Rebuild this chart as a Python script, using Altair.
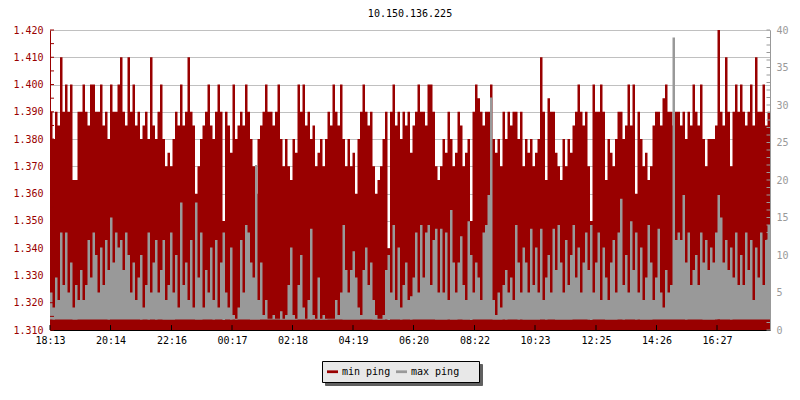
import altair as alt
import pandas as pd

FONT = "DejaVu Sans Mono"
RED = "#990000"
GREY = "#999999"
SHADOW = "#606060"

title_text = "10.150.136.225"
series_names = ["min ping", "max ping"]
time_labels = ["18:13", "20:14", "22:16", "00:17", "02:18", "04:19",
               "06:20", "08:22", "10:23", "12:25", "14:26", "16:27"]
time_label_minutes = [0, 121, 243, 364, 485, 606, 727, 849, 970, 1092, 1213, 1334]
step_minutes = 5
span_minutes = 1440

left_domain = [1.31, 1.42]
right_domain = [0, 40]
left_labels = [1.31, 1.32, 1.33, 1.34, 1.35, 1.36, 1.37, 1.38, 1.39, 1.40, 1.41, 1.42]
left_tick_positions = [1.310, 1.315, 1.320, 1.325, 1.330, 1.335, 1.340, 1.345, 1.350, 1.355,
                       1.360, 1.365, 1.370, 1.375, 1.380, 1.385, 1.390, 1.395, 1.400, 1.405,
                       1.410, 1.415, 1.420]
right_labels = [0, 5, 10, 15, 20, 25, 30, 35, 40]
right_tick_positions = list(range(0, 41))

# min ping (left axis), one value every 5 minutes
min_ping = [
    1.39, 1.38, 1.39, 1.385, 1.41, 1.39, 1.40, 1.39, 1.40, 1.365, 1.365, 1.39,
    1.39, 1.40, 1.39, 1.385, 1.40, 1.40, 1.39, 1.39, 1.40, 1.385, 1.39, 1.38,
    1.40, 1.39, 1.39, 1.40, 1.41, 1.39, 1.385, 1.41, 1.39, 1.40, 1.385, 1.39,
    1.38, 1.385, 1.39, 1.38, 1.41, 1.385, 1.38, 1.39, 1.40, 1.38, 1.37, 1.375,
    1.37, 1.38, 1.39, 1.385, 1.40, 1.385, 1.39, 1.41, 1.39, 1.385, 1.36, 1.37,
    1.38, 1.385, 1.39, 1.40, 1.385, 1.38, 1.39, 1.40, 1.39, 1.35, 1.39, 1.385,
    1.375, 1.40, 1.38, 1.385, 1.39, 1.385, 1.40, 1.39, 1.38, 1.37, 1.36, 1.38,
    1.385, 1.39, 1.40, 1.39, 1.39, 1.385, 1.39, 1.40, 1.38, 1.37, 1.38, 1.37,
    1.365, 1.38, 1.375, 1.40, 1.39, 1.40, 1.385, 1.39, 1.38, 1.385, 1.37, 1.375,
    1.38, 1.37, 1.38, 1.39, 1.385, 1.40, 1.39, 1.385, 1.40, 1.38, 1.37, 1.38,
    1.37, 1.375, 1.36, 1.38, 1.39, 1.40, 1.39, 1.385, 1.39, 1.37, 1.36, 1.365,
    1.37, 1.38, 1.39, 1.34, 1.39, 1.40, 1.385, 1.39, 1.38, 1.39, 1.385, 1.39,
    1.375, 1.385, 1.39, 1.40, 1.39, 1.39, 1.385, 1.40, 1.40, 1.39, 1.37, 1.365,
    1.37, 1.38, 1.375, 1.39, 1.38, 1.37, 1.375, 1.39, 1.385, 1.37, 1.375, 1.38,
    1.35, 1.39, 1.40, 1.395, 1.39, 1.385, 1.39, 1.39, 1.40, 1.38, 1.375, 1.38,
    1.37, 1.39, 1.38, 1.39, 1.385, 1.39, 1.39, 1.38, 1.39, 1.37, 1.38, 1.375,
    1.38, 1.37, 1.375, 1.38, 1.41, 1.39, 1.365, 1.395, 1.39, 1.39, 1.375, 1.37,
    1.365, 1.38, 1.37, 1.38, 1.375, 1.385, 1.39, 1.40, 1.39, 1.385, 1.39, 1.37,
    1.35, 1.40, 1.39, 1.39, 1.40, 1.39, 1.365, 1.38, 1.375, 1.37, 1.38, 1.39,
    1.39, 1.38, 1.385, 1.40, 1.385, 1.40, 1.36, 1.39, 1.38, 1.37, 1.375, 1.365,
    1.37, 1.385, 1.39, 1.39, 1.385, 1.395, 1.40, 1.39, 1.39, 1.385, 1.39, 1.39,
    1.385, 1.39, 1.38, 1.39, 1.385, 1.40, 1.39, 1.385, 1.40, 1.38, 1.37, 1.38,
    1.38, 1.38, 1.385, 1.42, 1.39, 1.385, 1.41, 1.39, 1.37, 1.39, 1.40, 1.39,
    1.40, 1.39, 1.385, 1.39, 1.40, 1.385, 1.41, 1.39, 1.39, 1.40, 1.385, 1.39,
]

# max ping (right axis), one value every 5 minutes
max_ping = [
    5, 3, 7, 4, 13, 6, 13, 5, 9, 3, 6, 4,
    8, 4, 6, 12, 7, 13, 10, 5, 11, 6, 12, 8,
    15, 9, 13, 11, 12, 8, 13, 10, 5, 9, 4, 7,
    10, 3, 6, 13, 5, 9, 12, 5, 8, 12, 4, 6,
    13, 5, 10, 3, 17, 6, 9, 4, 12, 3, 17, 7,
    13, 3, 8, 5, 11, 4, 12, 3, 9, 13, 5, 3,
    11, 2, 1.5, 3, 12, 5, 14, 13, 9, 7, 22, 4,
    9, 2, 4, 1.5, 1.5, 2, 1.5, 1.5, 2.5, 1.5, 2, 6,
    11, 2, 1.5, 6, 10, 3, 1.5, 4, 13.5, 2, 1.5, 7,
    1.5, 2, 1.5, 1.5, 1.5, 1.5, 4, 2, 5, 14, 8, 5,
    8, 10.5, 7, 3, 2, 8, 11, 6, 9, 4, 2, 1.5,
    1.5, 2, 8, 10, 5, 14, 4, 11, 3, 6, 9, 4,
    4.5, 7, 13, 5, 14, 7, 13, 14, 6, 12, 13.5, 5,
    13.5, 5, 13, 4, 16, 9, 5, 9, 12.5, 6, 4, 14.5,
    10, 5, 9, 7, 4, 13, 14, 18, 31, 4, 2, 5,
    3, 6, 8, 5, 7, 4, 14, 9, 5, 11, 9, 5,
    13.5, 6, 11, 5, 13.5, 4, 7, 10, 5, 13.5, 8, 14,
    9, 5, 12, 6, 10, 14, 7, 11, 5, 9, 13, 8,
    14, 5, 9, 13, 4, 11, 7, 4, 9, 12, 5, 13,
    17.5, 6, 10, 5, 14.5, 8, 13, 5, 11, 4, 7, 14,
    9, 4, 7, 13.5, 5, 3, 8, 5, 6, 39, 12, 13,
    12, 18, 9, 13, 6, 8, 10, 6, 13, 9, 12, 8,
    11, 9, 13, 18, 15, 9, 12, 8, 11, 7, 13, 6,
    10, 6, 13, 8, 12, 4, 11, 7, 13, 6, 12, 14,
]

# ---- tables built from the lists ----
df = pd.DataFrame({
    "t": [i * step_minutes for i in range(len(min_ping))],
    "min": min_ping,
    "max": max_ping,
})
last = df.iloc[[-1]].copy()
last["t"] = span_minutes
df = pd.concat([df, last], ignore_index=True)

left_ticks_df = pd.DataFrame({"v": left_tick_positions, "t": 0, "t2": 8})
right_ticks_df = pd.DataFrame({"v": right_tick_positions, "t": span_minutes - 7, "t2": span_minutes})
bottom_ticks_df = pd.DataFrame({"t": time_label_minutes, "y0": 1.31, "y1": 1.3118})
shadow_names = [s + " (shadow)" for s in series_names]
shadow_df = pd.DataFrame({"shadow_series": shadow_names})

label_expr = "[" + ",".join("'%s'" % s for s in time_labels) + "][indexof([" + \
    ",".join(str(m) for m in time_label_minutes) + "], datum.value)]"

x_scale = alt.Scale(domain=[0, span_minutes], nice=False, zero=False)
x_axis = alt.Axis(values=time_label_minutes, labelExpr=label_expr, grid=False, ticks=False,
                  domainColor="black", labelColor="black", labelPadding=5, title=None,
                  labelFont=FONT, labelFontSize=10, labelFlush=False, labelOverlap=False)
x_enc = alt.X("t:Q", scale=x_scale, axis=x_axis)

left_scale = alt.Scale(domain=left_domain, nice=False, zero=False)
right_scale = alt.Scale(domain=right_domain, nice=False, zero=False)


def make_legend(x, y, fill, stroke, label_color, title_color, expr=None):
    kw = dict(title=".", titleOrient="right", titlePadding=8, titleColor=title_color,
              titleFont=FONT, titleFontSize=10, titleFontWeight="normal",
              orient="none", legendX=x, legendY=y, direction="horizontal",
              fillColor=fill, strokeColor=stroke, padding=5,
              symbolType="M-1,-0.25H1V0.25H-1Z", symbolSize=121, symbolStrokeWidth=0,
              symbolOpacity=1, labelFont=FONT, labelFontSize=10, labelColor=label_color,
              columnPadding=5, labelOffset=4)
    if expr:
        kw["labelExpr"] = expr
    return alt.Legend(**kw)


LEGEND_BG = "#e8e8e8"
color_scale = alt.Scale(domain=series_names, range=[RED, GREY])
main_legend = make_legend(272, 331, LEGEND_BG, "black", "black", LEGEND_BG)

# invisible layer that only provides the legend's drop shadow (drawn first, underneath)
shadow = alt.Chart(shadow_df).mark_point(opacity=0, filled=True).encode(
    fill=alt.Fill("shadow_series:N",
                  scale=alt.Scale(domain=shadow_names, range=[SHADOW, SHADOW]),
                  legend=make_legend(275, 334, SHADOW, SHADOW, SHADOW, SHADOW,
                                     "replace(datum.label, ' (shadow)', '')")),
)

red = alt.Chart(df).transform_calculate(series="'min ping'").mark_area(
    interpolate="step-after", opacity=1
).encode(
    x=x_enc,
    y=alt.Y("min:Q", scale=left_scale,
            axis=alt.Axis(orient="left", values=left_labels, format=".3f", grid=True,
                          gridColor="#c0c0c0", ticks=False, domainColor=RED, labelColor=RED,
                          labelPadding=7, title=None, labelFont=FONT, labelFontSize=10)),
    y2=alt.datum(1.31),
    color=alt.Color("series:N", scale=color_scale, legend=main_legend),
)

grey = alt.Chart(df).transform_calculate(series="'max ping'").mark_area(
    interpolate="step-after", opacity=1
).encode(
    x=x_enc,
    y=alt.Y("max:Q", scale=right_scale,
            axis=alt.Axis(orient="right", values=right_labels, grid=False, ticks=False,
                          domainColor=GREY, labelColor=GREY, labelPadding=6, title=None,
                          labelFont=FONT, labelFontSize=10)),
    y2="min:Q",
    color=alt.Color("series:N", scale=color_scale, legend=main_legend),
)

left_ticks = alt.Chart(left_ticks_df).mark_rule(color=RED).encode(
    x=x_enc, x2="t2:Q",
    y=alt.Y("v:Q", scale=left_scale, axis=None),
)
right_ticks = alt.Chart(right_ticks_df).mark_rule(color=GREY).encode(
    x=x_enc, x2="t2:Q",
    y=alt.Y("v:Q", scale=right_scale, axis=None),
)
bottom_ticks = alt.Chart(bottom_ticks_df).mark_rule(color="black").encode(
    x=x_enc,
    y=alt.Y("y0:Q", scale=left_scale, axis=None),
    y2="y1:Q",
)

chart = alt.layer(shadow, red, grey, left_ticks, right_ticks, bottom_ticks).resolve_scale(
    y="independent"
).properties(
    width=720, height=300,
    autosize=alt.AutoSizeParams(type="none"),
    padding={"left": 42, "top": 22, "right": 22, "bottom": 62},
    title=alt.TitleParams(title_text, font=FONT, fontSize=10, fontWeight="normal",
                          color="black", anchor="middle", offset=6),
).configure_view(stroke=None).configure(background="white")

chart.save("out.html", embed_options={"renderer": "svg", "actions": False})
